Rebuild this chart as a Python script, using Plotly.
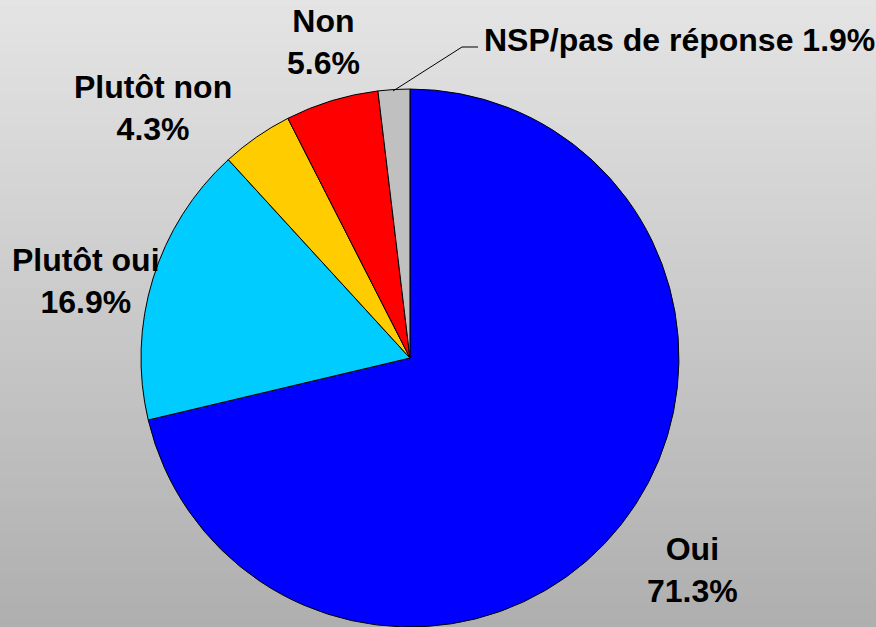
import plotly.graph_objects as go

categories = ["Oui", "Plutôt oui", "Plutôt non", "Non", "NSP/pas de réponse"]
values = [71.3, 16.9, 4.3, 5.6, 1.9]
colors = ["#0000FF", "#00CCFF", "#FFCC00", "#FF0000", "#C0C0C0"]

W, H = 876, 627

fig = go.Figure(go.Pie(
    labels=categories, values=values, sort=False, direction="clockwise", rotation=0,
    marker=dict(colors=colors, line=dict(color="black", width=1)),
    textinfo="none", hoverinfo="label+percent", showlegend=False,
    domain=dict(x=[0.158, 0.778], y=[0.0, 0.858]),
))

# gradient background bands
n = 80
top, bot = 228, 175
shapes = []
for i in range(n):
    g = round(top + (bot - top) * i / (n - 1))
    c = f"rgb({g},{g},{g})"
    shapes.append(dict(type="rect", xref="paper", yref="paper", x0=0, x1=1,
                       y0=1 - (i + 1) / n, y1=1 - i / n + 0.001,
                       fillcolor=c, line=dict(width=0), layer="below"))

def px(x, y):
    return x / W, 1 - y / H

# leader line for NSP
p0, p1, p2 = px(393, 91), px(462, 47), px(478, 47)
shapes.append(dict(type="path", xref="paper", yref="paper",
                   path=f"M {p0[0]},{p0[1]} L {p1[0]},{p1[1]} L {p2[0]},{p2[1]}",
                   line=dict(color="black", width=1)))

font = dict(family="Liberation Sans, Arial, sans-serif", size=32, color="black")
labels = [
    ("Oui<br>71.3%", 692, 570, "center"),
    ("Plutôt oui<br>16.9%", 86, 281, "center"),
    ("Plutôt non<br>4.3%", 153, 108, "center"),
    ("Non<br>5.6%", 323, 42, "center"),
    ("NSP/pas de réponse 1.9%", 482, 40, "left"),
]
annotations = []
for txt, x, y, anchor in labels:
    ax, ay = px(x, y)
    annotations.append(dict(text=f"<b>{txt}</b>", x=ax, y=ay, xref="paper", yref="paper",
                            xanchor=anchor, yanchor="middle", showarrow=False,
                            font=font, align="center"))

fig.update_layout(width=W, height=H, margin=dict(l=0, r=0, t=0, b=0),
                  paper_bgcolor="#d0d0d0", shapes=shapes, annotations=annotations)
fig.write_html("out.html", config={"displayModeBar": False},
               post_script="document.body.style.margin='0';document.body.style.overflow='hidden';")
